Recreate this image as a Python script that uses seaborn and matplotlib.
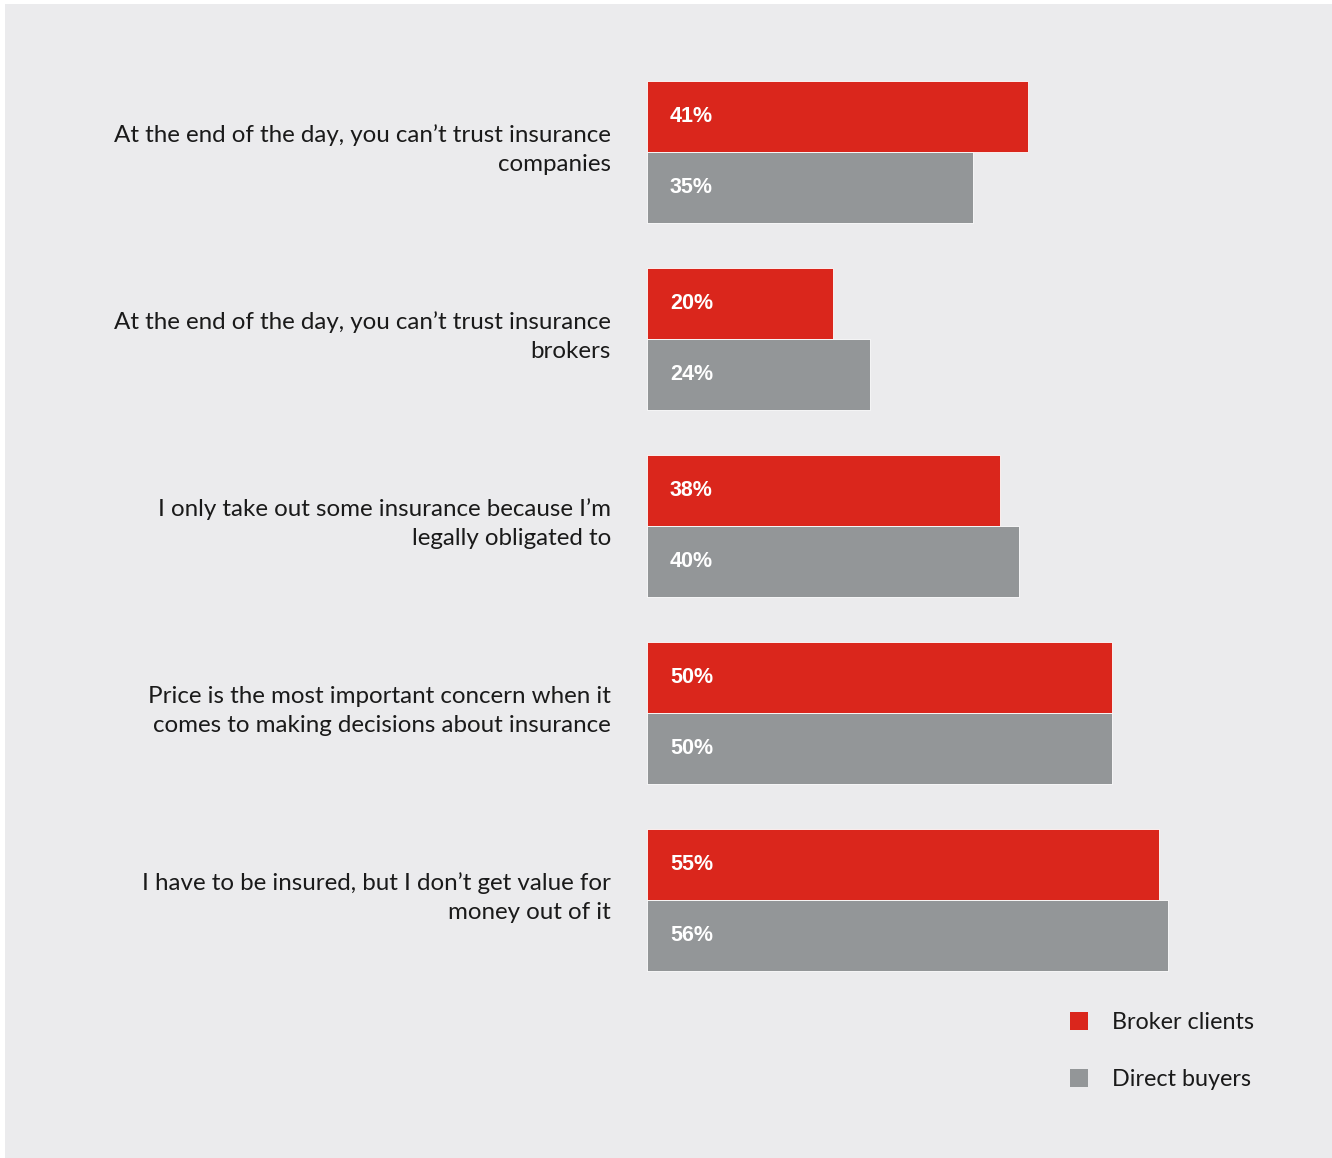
import matplotlib
matplotlib.use("Agg")
import matplotlib.pyplot as plt
import matplotlib.transforms as mtransforms
from matplotlib.patches import Rectangle, Patch
import seaborn as sns
import pandas as pd

statements = [
    "At the end of the day, you can\u2019t trust insurance\ncompanies",
    "At the end of the day, you can\u2019t trust insurance\nbrokers",
    "I only take out some insurance because I\u2019m\nlegally obligated to",
    "Price is the most important concern when it\ncomes to making decisions about insurance",
    "I have to be insured, but I don\u2019t get value for\nmoney out of it",
]
broker_clients = [41, 20, 38, 50, 55]
direct_buyers = [35, 24, 40, 50, 56]
groups = ["Broker clients", "Direct buyers"]
colors = ["#DA261C", "#939698"]

df = pd.DataFrame({
    "statement": statements * 2,
    "share": broker_clients + direct_buyers,
    "group": [groups[0]] * len(statements) + [groups[1]] * len(statements),
})

sns.set_theme(style="white")
plt.rcParams["font.family"] = ["Lato", "DejaVu Sans"]

W, H = 1332, 1158
fig = plt.figure(figsize=(W / 100, H / 100), dpi=100)
fig.patch.set_facecolor("white")
fig.patches.append(Rectangle((5 / W, 0), 1 - 5 / W, 1 - 4 / H,
                             transform=fig.transFigure, facecolor="#EBEBED",
                             edgecolor="none", zorder=-10))

# axes placement in pixels
ax_left, ax_right = 647, 1297
pitch = 187
c0 = 152
top = c0 - pitch * 0.6
bottom = c0 + 4 * pitch + pitch * 0.6
ax = fig.add_axes([ax_left / W, 1 - bottom / H, (ax_right - ax_left) / W, (bottom - top) / H])
ax.set_facecolor("none")
ax.set_zorder(1)

sns.barplot(data=df, x="share", y="statement", hue="group", palette=colors,
            width=0.76, orient="h", ax=ax, edgecolor="white", linewidth=0.6,
            saturation=1, legend=False)

ax.set_xlim(0, 650 / 9.3)
ax.set_ylim(4.6, -0.6)
ax.set_xlabel("")
ax.set_ylabel("")
ax.set_xticks([])
for s in ax.spines.values():
    s.set_visible(False)
ax.tick_params(axis="y", length=0, pad=26)
lift = mtransforms.ScaledTranslation(0, 8 / 100, fig.dpi_scale_trans)
for lbl in ax.get_yticklabels():
    lbl.set_fontsize(17.4)
    lbl.set_color("#1A1A1A")
    lbl.set_horizontalalignment("right")
    lbl.set_linespacing(1.45)
    lbl.set_transform(lbl.get_transform() + lift)

# value labels at the start of each bar
for container in ax.containers:
    for bar in container:
        val = bar.get_width()
        ax.annotate(f"{val:.0f}%", xy=(0, bar.get_y() + bar.get_height() / 2),
                    xytext=(16.5, 0), textcoords="offset points",
                    ha="left", va="center", color="white", fontsize=15.5,
                    fontweight="bold", family=["Liberation Sans", "DejaVu Sans"])

handles = [Patch(facecolor=c, edgecolor="none") for c in colors]
fig.legend(handles, groups, loc="upper left",
           bbox_to_anchor=(1049 / W, 1 - 991 / H), frameon=False,
           fontsize=16.8, handlelength=0.78, handleheight=0.78,
           handletextpad=1.0, labelspacing=1.55, labelcolor="#1A1A1A")

fig.savefig("out.png", dpi=100, facecolor=fig.get_facecolor())
